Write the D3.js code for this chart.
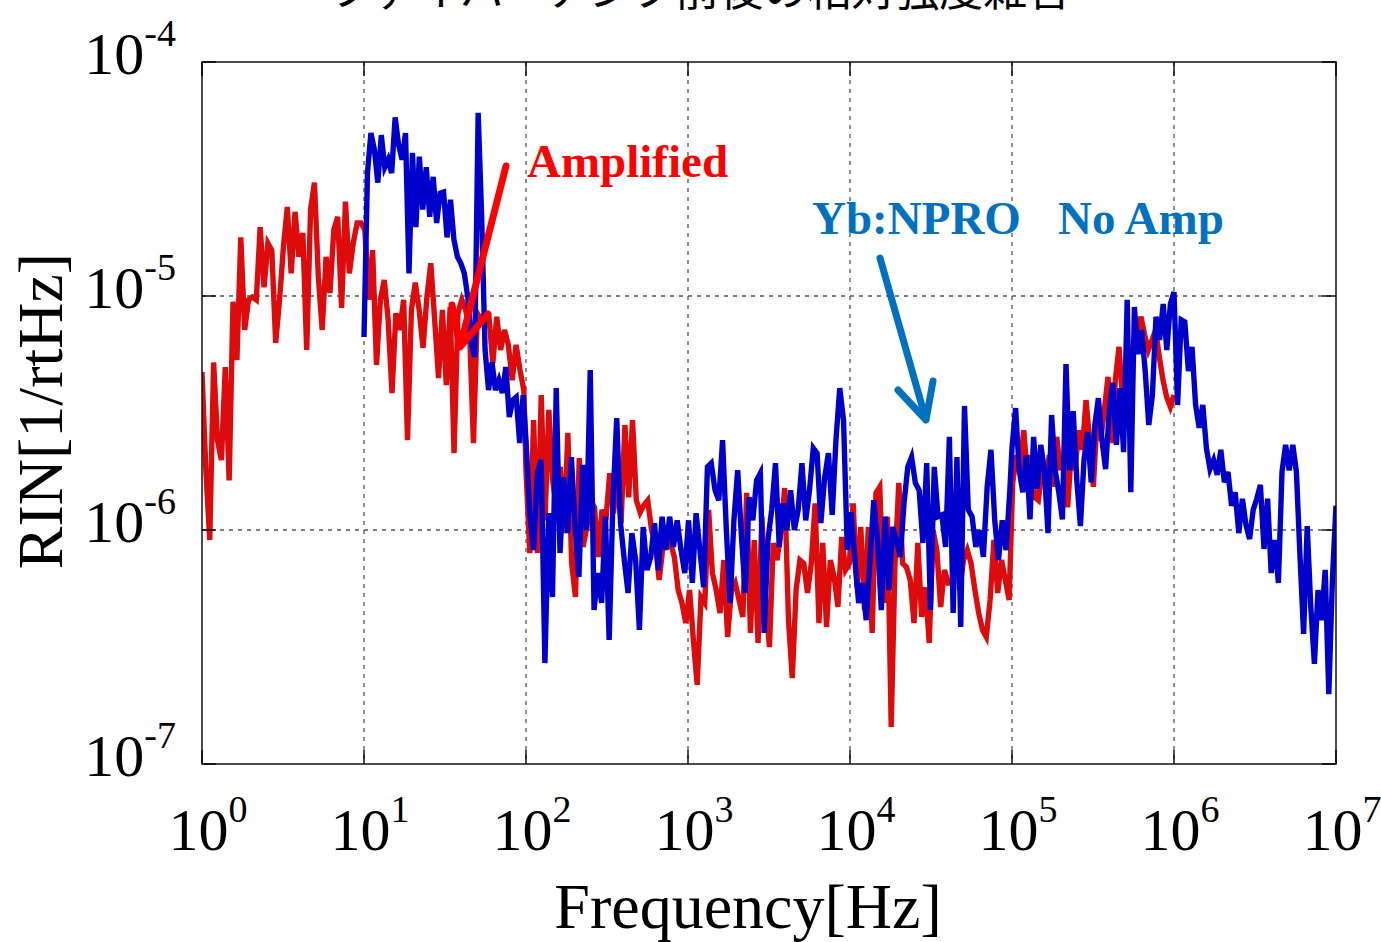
<!DOCTYPE html>
<html><head><meta charset="utf-8">
<script src="https://cdn.jsdelivr.net/npm/d3@7"></script>
<style>body{margin:0;background:#fff;} svg{display:block;}</style>
</head><body><svg id="c" width="1381" height="942"></svg>
<script>
// ---- data (RIN values in units of 1e-6 /rtHz) ----
const xTickExps=[0,1,2,3,4,5,6,7];
const yTickExps=[-7,-6,-5,-4];
const titleText="ファイバーアンプ前後の相対強度雑音";
const xLabel="Frequency[Hz]";
const yLabel="RIN[1/rtHz]";

// Amplified (red) — three FFT spans
const redLowRange=[1,97];
const redLow=[4.73,1.80,0.906,5.2,2.42,1.99,4.97,1.63,9.45,5.33,17.8,7.16,9.63,9.9,9.63,19.7,10.9,16.8,15.7,6.3,9.63,16.2,24.0,12.5,22.9,14.7,18.6,5.88,23.4,30.5,12.1,7.16,14.7,10.3,19.2,21.8,8.9,25.3,12.5,16.8,20.5,20.5,
19.2,9.63,15.7,5.07,9.63,11.7,7.91,3.85,8.44,7.16,9.63,2.42,8.72,11.4,8.72,6.0,9.9,13.8,7.91,4.46,8.72,4.16,8.98,2.13,8.44,9.63,8.72,7.16,2.35,8.44,7.91,8.44,8.15,5.17,8.15,5.88,7.16,6.18,4.37,6.18,4.83,3.96];
const redMidRange=[100,9.6e4];
const redMid=[1.80,0.797,2.95,0.797,3.77,1.10,3.26,1.63,1.25,1.86,
0.97,2.60,0.72,0.517,2.03,0.846,1.03,1.34,1.25,0.767,
1.22,1.10,1.75,1.18,1.68,1.07,2.81,1.38,2.95,1.34,
1.19,1.28,1.34,1.00,0.88,0.612,0.846,0.846,0.88,0.767,
0.554,0.488,0.40,0.554,0.339,0.218,0.517,0.488,1.22,0.655,
0.554,0.442,0.744,0.349,0.554,0.594,0.502,0.425,1.44,0.363,
0.906,0.329,1.14,0.502,0.316,0.88,0.744,1.00,1.51,0.412,
0.233,0.554,0.744,0.72,0.538,0.72,1.30,0.40,0.88,0.385,
0.744,0.63,0.469,0.934,0.675,0.72,1.30,0.57,1.03,0.455,
1.03,0.363,1.44,1.53,0.488,1.14,0.144,0.72,1.59,0.72,
0.695,0.612,0.40,0.88,0.425,0.57,0.329,1.00,0.821,0.469,
0.675,0.594,0.594,0.88,0.554,0.744,0.821,0.72,0.554,0.442,
0.374,0.349,0.502,0.906,0.538,0.744,0.612,0.502];
const redHighRange=[1.01e5,1e6];
const redHigh=[1.59,2.09,1.80,2.67,1.72,2.09,1.38,1.34,1.80,1.63,
2.09,1.53,2.50,1.80,2.09,1.25,2.20,1.80,2.67,2.20,
3.59,2.42,1.53,2.95,2.42,3.26,4.51,2.35,4.37,6.06,
3.59,5.33,4.60,6.49,7.16,8.15,6.81,5.88,6.49,7.16,
5.49,4.37,3.70,3.36,3.77];

// Yb:NPRO no amp (blue)
const blueLowRange=[10,96];
const blueLow=[6.68,33.5,49.7,42.2,30.5,48.7,35.5,38.3,33.5,58.0,
44.3,38.3,49.7,12.5,40.9,19.7,39.4,23.4,35.5,21.8,
32.3,20.5,27.5,27.8,17.8,25.8,17.4,14.7,13.8,12.5,
9.9,6.3,5.49,60.6,22.0,5.88,3.96,5.2,3.96,
4.37,3.85,4.97,3.04,3.59,3.70,2.35,3.77];
const blueMidRange=[100,9.7e4];
const blueMid=[2.42,1.18,0.821,1.75,1.99,0.27,1.18,0.517,4.04,0.797,
1.68,0.97,2.05,1.03,0.63,1.90,1.00,4.83,0.455,0.655,
0.488,1.14,0.339,1.34,3.01,1.07,0.744,0.538,0.97,0.744,
0.374,1.03,0.675,0.767,1.07,0.675,1.14,0.821,1.14,0.846,
1.10,0.821,0.655,1.10,0.594,1.18,0.821,0.57,1.86,1.93,
1.48,1.34,2.42,1.00,0.488,1.10,1.80,0.934,0.538,1.38,
1.10,1.63,1.75,0.363,0.906,1.22,1.93,0.846,1.30,1.00,
1.48,1.00,1.22,1.93,1.10,1.48,2.24,2.13,1.07,1.67,
2.13,1.16,2.42,4.04,2.95,0.821,1.19,0.744,0.488,0.594,
0.412,0.744,1.34,0.906,0.455,1.14,0.554,1.03,0.906,0.767,
1.30,1.86,2.05,1.59,1.48,0.88,1.93,0.455,1.86,1.14,
1.16,0.846,2.50,0.442,2.05,0.385,3.39,1.22,1.14,0.846,
1.00,0.767,1.53,2.20,1.10,0.744,1.10,0.821,1.48];
const blueHighRange=[1e5,1e7];
const blueHigh=[2.24,3.32,1.80,1.45,2.09,1.11,2.50,1.50,2.31,1.80,
0.97,3.10,1.80,1.45,1.11,5.12,1.80,3.22,1.63,1.04,
1.99,2.62,1.60,2.81,3.66,2.42,1.82,3.22,4.25,2.31,
4.04,2.15,9.63,1.45,8.98,5.65,7.16,4.78,2.81,3.77,
8.15,6.49,9.24,5.88,9.24,10.4,3.42,7.91,7.75,4.78,
6.06,3.42,2.73,3.42,2.24,1.82,1.99,1.72,2.20,1.60,
1.77,1.27,1.45,0.97,1.36,1.05,0.915,1.22,1.36,1.56,
0.83,1.36,0.655,0.906,0.594,1.77,2.31,1.80,2.31,1.77,
0.774,0.36,1.04,0.469,0.268,0.554,0.412,0.675,0.199,0.612,
1.27];
const unit=1e-6;

// ---- layout ----
const L=202,R=1336,T=62,B=764;
const serif='"Liberation Serif","Times New Roman",serif';
const svg=d3.select('#c');
const x=d3.scaleLog().domain([1,1e7]).range([L,R]);
const y=d3.scaleLog().domain([1e-7,1e-4]).range([B,T]);

function build(segs){
  const pts=[];
  segs.forEach(([vals,[f0,f1]])=>{
    const lf=d3.scaleLinear().domain([0,vals.length-1]).range([Math.log10(f0),Math.log10(f1)]);
    vals.forEach((v,i)=>pts.push([Math.pow(10,lf(i)),v*unit]));
  });
  return pts;
}
const redPts=build([[redLow,redLowRange],[redMid,redMidRange],[redHigh,redHighRange]]);
const bluePts=build([[blueLow,blueLowRange],[blueMid,blueMidRange],[blueHigh,blueHighRange]]);

// title (clipped at top in the reference)
svg.append('text').attr('x',700).attr('y',6).attr('text-anchor','middle')
  .attr('font-family','"Noto Sans CJK JP",sans-serif').attr('font-size',44).attr('fill','#000').text(titleText);

// grid
const grid=svg.append('g').attr('stroke','#555').attr('stroke-width',1.3).attr('stroke-dasharray','4,5');
xTickExps.slice(1,-1).forEach(e=>grid.append('line').attr('x1',x(10**e)).attr('x2',x(10**e)).attr('y1',T).attr('y2',B));
yTickExps.slice(1,-1).forEach(e=>grid.append('line').attr('y1',y(10**e)).attr('y2',y(10**e)).attr('x1',L).attr('x2',R));

// clip
svg.append('clipPath').attr('id','pc').append('rect').attr('x',L).attr('y',T).attr('width',R-L).attr('height',B-T);

const line=d3.line().x(d=>x(d[0])).y(d=>y(d[1]));
const lines=svg.append('g').attr('clip-path','url(#pc)');
lines.append('path').datum(redPts).attr('d',line).attr('fill','none').attr('stroke','#dd0b0b').attr('stroke-width',5.4).attr('stroke-linejoin','miter');
lines.append('path').datum(bluePts).attr('d',line).attr('fill','none').attr('stroke','#0000cd').attr('stroke-width',5.4).attr('stroke-linejoin','miter');

// frame + ticks
svg.append('rect').attr('x',L).attr('y',T).attr('width',R-L).attr('height',B-T).attr('fill','none').attr('stroke','#000').attr('stroke-width',1.4);
const tk=svg.append('g').attr('stroke','#000').attr('stroke-width',1.4);
xTickExps.forEach(e=>{const xv=x(10**e);
  tk.append('line').attr('x1',xv).attr('x2',xv).attr('y1',B).attr('y2',B-14);
  tk.append('line').attr('x1',xv).attr('x2',xv).attr('y1',T).attr('y2',T+14);});
yTickExps.forEach(e=>{const yv=y(10**e);
  tk.append('line').attr('y1',yv).attr('y2',yv).attr('x1',L).attr('x2',L+14);
  tk.append('line').attr('y1',yv).attr('y2',yv).attr('x1',R).attr('x2',R-14);});

// tick labels
xTickExps.forEach(e=>{
  const t=svg.append('text').attr('x',x(10**e)+6).attr('y',850).attr('text-anchor','middle')
    .attr('font-family',serif).attr('font-size',60).attr('fill','#000');
  t.append('tspan').text('10');
  t.append('tspan').attr('dy',-28).attr('font-size',38).text(String(e));
});
yTickExps.forEach(e=>{
  const t=svg.append('text').attr('x',176).attr('y',y(10**e)+12).attr('text-anchor','end')
    .attr('font-family',serif).attr('font-size',60).attr('fill','#000');
  t.append('tspan').text('10');
  t.append('tspan').attr('dy',-28).attr('font-size',38).text(String(e));
});

// axis labels
svg.append('text').attr('x',748).attr('y',928).attr('text-anchor','middle')
  .attr('font-family',serif).attr('font-size',64).attr('fill','#000').text(xLabel);
svg.append('text').attr('transform','translate(62,411) rotate(-90)').attr('text-anchor','middle')
  .attr('font-family',serif).attr('font-size',64).attr('fill','#000').text(yLabel);

// annotations
const ann=svg.append('g').attr('fill','none').attr('stroke-width',7).attr('stroke-linecap','round').attr('stroke-linejoin','round');
ann.append('path').attr('d','M506,166 L460,347 M452,305 L460,347 L488,314').attr('stroke','#ff0000');
ann.append('path').attr('d','M880,258 L926,420 M898,390 L926,420 L933,381').attr('stroke','#0070c0');
svg.append('text').attr('x',527).attr('y',177).attr('font-family',serif).attr('font-weight','bold')
  .attr('font-size',47).attr('fill','#ff0000').text('Amplified');
svg.append('text').attr('x',812).attr('y',234).attr('font-family',serif).attr('font-weight','bold')
  .attr('font-size',47).attr('fill','#0070c0').text('Yb:NPRO');
svg.append('text').attr('x',1058).attr('y',234).attr('font-family',serif).attr('font-weight','bold')
  .attr('font-size',47).attr('fill','#0070c0').text('No Amp');
</script></body></html>
